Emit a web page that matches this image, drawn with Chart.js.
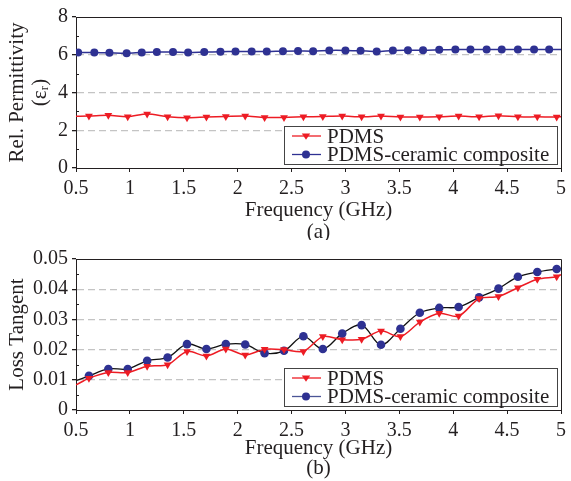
<!DOCTYPE html>
<html>
<head>
<meta charset="utf-8">
<script src="https://cdn.jsdelivr.net/npm/chart.js@4/dist/chart.umd.min.js"></script>
<style>
  html, body { margin: 0; padding: 0; background: #fff; }
  #wrap { position: relative; width: 571px; height: 481px; }
  #permChart { position: absolute; left: 0; top: 0; }
  #lossChart { position: absolute; left: 0; top: 240px; }
</style>
</head>
<body>
<div id="wrap">
  <canvas id="permChart" width="571" height="240" style="width:571px;height:240px"></canvas>
  <canvas id="lossChart" width="571" height="241" style="width:571px;height:241px"></canvas>
</div>
<script>
// series names
const seriesNames = ['PDMS', 'PDMS-ceramic composite'];

// (a) relative permittivity
const freqPdmsEps = [0.5, 0.62, 0.80, 0.98, 1.16, 1.35, 1.53, 1.71, 1.89, 2.07, 2.25, 2.43, 2.61, 2.79,
  2.97, 3.15, 3.33, 3.51, 3.69, 3.87, 4.05, 4.24, 4.42, 4.60, 4.78, 4.96, 5.0];
const pdmsEps = [2.74, 2.75, 2.79, 2.72, 2.86, 2.72, 2.66, 2.70, 2.73, 2.75, 2.68, 2.68, 2.71, 2.73,
  2.75, 2.71, 2.75, 2.70, 2.70, 2.71, 2.75, 2.71, 2.77, 2.71, 2.71, 2.70, 2.72];

const freqCompEps = [0.5, 0.52, 0.67, 0.81, 0.97, 1.11, 1.25, 1.40, 1.54, 1.69, 1.84, 1.98, 2.13, 2.27,
  2.42, 2.56, 2.70, 2.85, 3.00, 3.14, 3.29, 3.44, 3.58, 3.72, 3.87, 4.02, 4.16, 4.31, 4.45, 4.60,
  4.75, 4.89, 5.0];
const compEps = [6.12, 6.12, 6.12, 6.10, 6.08, 6.12, 6.14, 6.14, 6.12, 6.14, 6.16, 6.17, 6.17, 6.17,
  6.19, 6.20, 6.19, 6.23, 6.23, 6.21, 6.17, 6.23, 6.24, 6.24, 6.26, 6.28, 6.28, 6.28, 6.28, 6.28,
  6.28, 6.28, 6.28];

// (b) loss tangent
const freqLoss = [0.5, 0.62, 0.80, 0.98, 1.16, 1.35, 1.53, 1.71, 1.89, 2.07, 2.25, 2.43, 2.61, 2.79,
  2.97, 3.15, 3.33, 3.51, 3.69, 3.87, 4.05, 4.24, 4.42, 4.60, 4.78, 4.96, 5.0];
const pdmsTan = [0.0083, 0.0105, 0.0124, 0.0124, 0.0145, 0.0150, 0.0194, 0.0179, 0.0202, 0.0182, 0.0201,
  0.0200, 0.0194, 0.0243, 0.0233, 0.0234, 0.0262, 0.0243, 0.0291, 0.0320, 0.0311, 0.0369, 0.0376,
  0.0405, 0.0433, 0.0441, 0.0448];
const compTan = [0.0097, 0.0113, 0.0136, 0.0136, 0.0163, 0.0174, 0.0218, 0.0202, 0.0218, 0.0217, 0.0188,
  0.0196, 0.0244, 0.0202, 0.0253, 0.0281, 0.0216, 0.0269, 0.0322, 0.0338, 0.0341, 0.0373, 0.0402,
  0.0441, 0.0457, 0.0467, 0.0469];

const ink = '#231f20';
const red = '#ed1c24';
const navy = '#2e3192';
const gridGray = '#c4c4c4';
const serif = "'Liberation Serif', 'Times New Roman', serif";

function pts(xs, ys) {
  return xs.map((x, i) => ({ x: x, y: ys[i] }));
}
// line ends at the frame have no marker
function markerSize(r) {
  return ctx => (ctx.raw && (ctx.raw.x === 0.5 || ctx.raw.x === 5.0)) ? 0 : r;
}
function fmt(v) { return String(+Number(v).toFixed(3)); }

// frame, minor ticks and boxed legend with line+marker samples
const framePlugin = {
  id: 'frame',
  afterDraw(chart, args, opts) {
    const { ctx, chartArea: a } = chart;
    const ys = chart.scales.y;
    ctx.save();
    ctx.strokeStyle = ink;
    ctx.lineWidth = 1;
    ctx.beginPath();
    ctx.moveTo(a.left, a.top + 0.5);
    ctx.lineTo(a.right + 0.5, a.top + 0.5);
    ctx.lineTo(a.right + 0.5, a.bottom);
    ctx.stroke();
    // minor y ticks (inside)
    ctx.beginPath();
    opts.minor.forEach(v => {
      const y = Math.round(ys.getPixelForValue(v)) + 0.5;
      ctx.moveTo(a.left, y);
      ctx.lineTo(a.left + 3, y);
    });
    ctx.stroke();

    // legend box
    const bx = a.right - 277, by = a.bottom - 42, bw = 273, bh = 38;
    ctx.fillStyle = '#fff';
    ctx.fillRect(bx, by, bw, bh);
    ctx.strokeStyle = '#444';
    ctx.strokeRect(bx + 0.5, by + 0.5, bw, bh);
    ctx.font = '21px ' + serif;
    ctx.textBaseline = 'middle';
    ctx.textAlign = 'left';
    chart.data.datasets.forEach((ds, i) => {
      const ry = by + 10 + i * 18.5;
      ctx.strokeStyle = ds.legendLine || ds.borderColor;
      ctx.lineWidth = 1.3;
      ctx.beginPath();
      ctx.moveTo(bx + 8, ry);
      ctx.lineTo(bx + 37, ry);
      ctx.stroke();
      ctx.fillStyle = ds.pointBackgroundColor;
      ctx.beginPath();
      if (ds.pointStyle === 'triangle') {
        const r = 4.2;
        ctx.moveTo(bx + 22 - r, ry - r * 0.6);
        ctx.lineTo(bx + 22 + r, ry - r * 0.6);
        ctx.lineTo(bx + 22, ry + r * 0.9);
        ctx.closePath();
      } else {
        ctx.arc(bx + 22, ry, 4, 0, Math.PI * 2);
      }
      ctx.fill();
      ctx.fillStyle = ink;
      ctx.fillText(ds.label, bx + 43, ry + 1);
    });
    ctx.restore();
  }
};

function makeOptions(cfg) {
  return {
    responsive: false,
    animation: false,
    layout: { padding: { top: cfg.padTop, right: 5, left: 0, bottom: 0 } },
    plugins: {
      legend: { display: false },
      tooltip: { enabled: false },
      frame: { minor: cfg.minor }
    },
    scales: {
      x: {
        type: 'linear',
        min: 0.5,
        max: 5,
        ticks: { stepSize: 0.5, color: ink, font: { family: serif, size: 20 }, padding: 5,
          maxRotation: 0, autoSkip: false, callback: fmt },
        grid: { drawOnChartArea: false, tickLength: 4, tickColor: ink },
        border: { color: ink, width: 1 },
        title: { display: true, text: ['Frequency (GHz)', cfg.panel], color: ink,
          font: { family: serif, size: 21, lineHeight: cfg.titleLh }, padding: { top: 0, bottom: cfg.titlePad } },
        afterFit: s => { s.height = cfg.xHeight; }
      },
      y: {
        min: cfg.yMin,
        max: cfg.yMax,
        ticks: { stepSize: cfg.yStep, color: ink, font: { family: serif, size: 20 }, padding: 4, callback: fmt },
        grid: {
          color: c => (c.tick && (c.tick.value === cfg.yMin || c.tick.value === cfg.yMax)) ? 'rgba(0,0,0,0)' : gridGray,
          lineWidth: 1.3, tickLength: 4, tickColor: ink
        },
        border: { color: ink, width: 1, dash: [7, 4] },
        title: { display: true, text: cfg.yTitle, color: ink,
          font: { family: serif, size: 21, lineHeight: 1.1 }, padding: { top: 6, bottom: 0 } },
        afterFit: s => { s.width = 76; }
      }
    }
  };
}

new Chart(document.getElementById('permChart'), {
  type: 'line',
  data: {
    datasets: [
      { label: seriesNames[0], data: pts(freqPdmsEps, pdmsEps), borderColor: red, borderWidth: 1.5,
        pointStyle: 'triangle', rotation: 180, pointRadius: markerSize(4.5), pointBackgroundColor: red,
        pointBorderColor: red, pointBorderWidth: 0, tension: 0.3 },
      { label: seriesNames[1], data: pts(freqCompEps, compEps), borderColor: navy, borderWidth: 1.5,
        pointStyle: 'circle', pointRadius: markerSize(4), pointBackgroundColor: navy,
        pointBorderColor: navy, pointBorderWidth: 0, tension: 0.3 }
    ]
  },
  options: makeOptions({ padTop: 17, yMin: 0, yMax: 8, yStep: 2, minor: [1, 3, 5, 7],
    yTitle: ['Rel. Permittivity', '(\u03b5\u1d63)'], panel: '(a)', xHeight: 72, titlePad: -4, titleLh: 1.05 }),
  plugins: [framePlugin]
});

new Chart(document.getElementById('lossChart'), {
  type: 'line',
  data: {
    datasets: [
      { label: seriesNames[0], data: pts(freqLoss, pdmsTan), borderColor: red, borderWidth: 1.5,
        pointStyle: 'triangle', rotation: 180, pointRadius: markerSize(4.5), pointBackgroundColor: red,
        pointBorderColor: red, pointBorderWidth: 0, tension: 0.3 },
      { label: seriesNames[1], data: pts(freqLoss, compTan), borderColor: '#111', legendLine: '#4b5596',
        borderWidth: 1.3, pointStyle: 'circle', pointRadius: markerSize(4.3), pointBackgroundColor: navy,
        pointBorderColor: navy, pointBorderWidth: 0, tension: 0.35 }
    ]
  },
  options: makeOptions({ padTop: 19, yMin: 0, yMax: 0.05, yStep: 0.01,
    minor: [0.005, 0.015, 0.025, 0.035, 0.045],
    yTitle: 'Loss Tangent', panel: '(b)', xHeight: 71, titlePad: 3, titleLh: 0.95 }),
  plugins: [framePlugin]
});
</script>
</body>
</html>
